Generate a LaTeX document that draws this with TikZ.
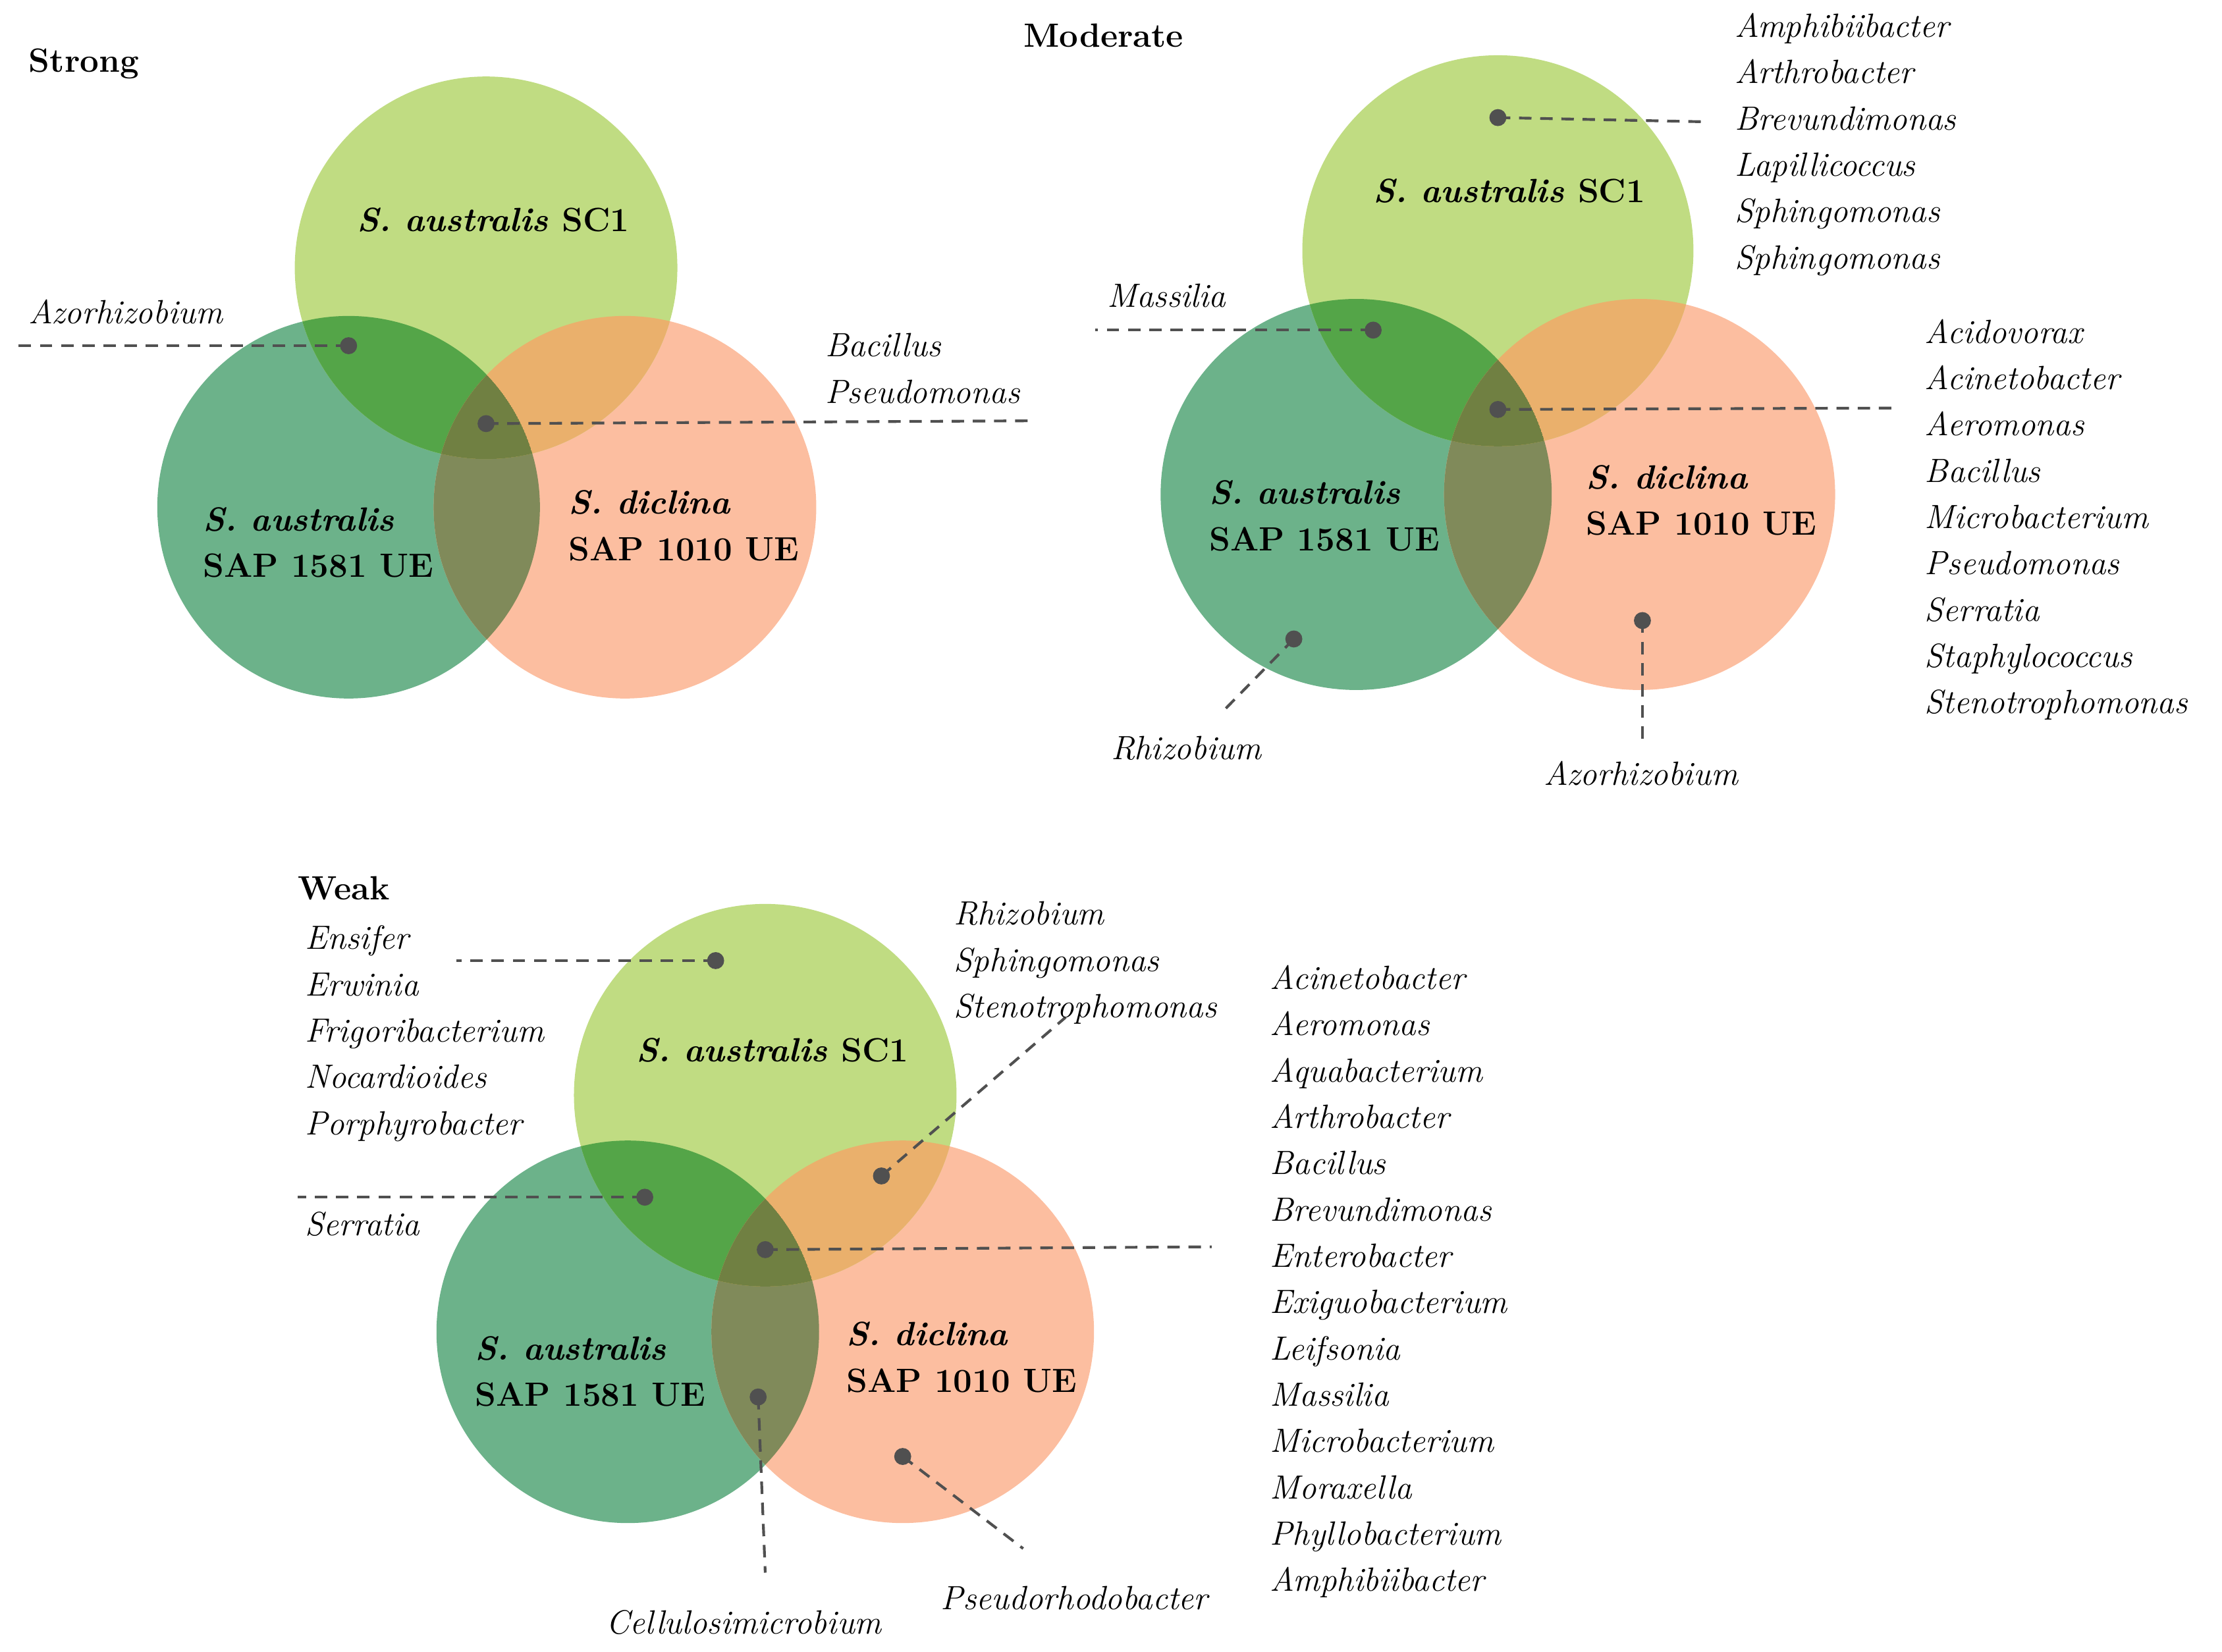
\documentclass[tikz,border=0pt]{standalone}
\usepackage{tikz}
\usepackage{xcolor}
\usetikzlibrary{calc}
\definecolor{lgreen}{RGB}{192,220,130}
\definecolor{dgreen}{RGB}{108,178,138}
\definecolor{lorange}{RGB}{252,190,160}
\definecolor{gAB}{RGB}{128,138,90}
\definecolor{gAC}{RGB}{84,165,72}
\definecolor{gBC}{RGB}{234,176,108}
\definecolor{gABC}{RGB}{112,128,66}
\definecolor{dotgray}{RGB}{80,80,80}
\tikzset{
  txt/.style={inner sep=0pt, font=\fontsize{13.5}{18.6}\selectfont},
  lst/.style={txt, align=left, anchor=north west, font=\fontsize{13.5}{18.6}\selectfont\itshape},
  lbl/.style={txt, align=left, anchor=west, font=\fontsize{13.5}{18.6}\selectfont\bfseries},
  ttl/.style={txt, anchor=west, font=\fontsize{13.5}{16}\selectfont\bfseries},
  lead/.style={dotgray, dashed, dash pattern=on 5pt off 3.5pt, line width=1.1pt},
  pt/.style={fill=dotgray},
}
% three circles: #1 dark green, #2 orange, #3 light green, #4 radius
\newcommand\venndraw[4]{%
  \fill[dgreen] #1 circle (#4);
  \fill[lorange] #2 circle (#4);
  \fill[lgreen] #3 circle (#4);
  \begin{scope}\clip #1 circle (#4); \fill[gAB] #2 circle (#4); \fill[gAC] #3 circle (#4);
    \clip #2 circle (#4); \fill[gABC] #3 circle (#4);\end{scope}
  \begin{scope}\clip #2 circle (#4); \clip #3 circle (#4);
    \fill[gBC] #2 circle (#4);
    \clip #1 circle (#4); \fill[gABC] #1 circle (#4);\end{scope}
}
\begin{document}
\begin{tikzpicture}[x=0.02cm, y=-0.02cm]
  \useasboundingbox (0,0) rectangle (1568,1166);
  % Strong
  \venndraw{(246,358)}{(441,358)}{(343,189)}{135}
  \node[ttl] (strong) at (20,45) {Strong};
  \node[txt] (s1) at (348,155) {\bfseries\itshape S. australis \upshape SC1};
  \node[lbl] (s2) at (143,383) {\itshape S. australis\\ SAP 1581 UE};
  \node[lbl] (s3) at (401,371) {\itshape S. diclina\\ SAP 1010 UE};
  \coordinate (sd1) at (246,244);
  \coordinate (se1) at (8,244);
  \coordinate (sd2) at (343,299);
  \coordinate (se2) at (730,297);
  \draw[lead] (sd1) -- (se1);
  \draw[lead] (sd2) -- (se2);
  \fill[pt] (sd1) circle (6);
  \fill[pt] (sd2) circle (6);
  \node[lst] (sl1) at (20,211) {Azorhizobium};
  \node[lst] (sl2) at (582,235) {Bacillus\\ Pseudomonas};
  % Moderate
  \venndraw{(957,349)}{(1157,349)}{(1057,177)}{138}
  \node[ttl] (moderate) at (722,25) {Moderate};
  \node[txt] (m1) at (1065,135) {\bfseries\itshape S. australis \upshape SC1};
  \node[lbl] (m2) at (853,364) {\itshape S. australis\\ SAP 1581 UE};
  \node[lbl] (m3) at (1119,353) {\itshape S. diclina\\ SAP 1010 UE};
  \coordinate (md1) at (1057,83);
  \coordinate (me1) at (1205,86);
  \coordinate (md2) at (969,233);
  \coordinate (me2) at (773,233);
  \coordinate (md3) at (1057,289);
  \coordinate (me3) at (1335,288);
  \coordinate (md4) at (913,451);
  \coordinate (me4) at (865,500);
  \coordinate (md5) at (1159,438);
  \coordinate (me5) at (1159,527);
  \foreach \i in {1,...,5} {
    \draw[lead] (md\i) -- (me\i);
    \fill[pt] (md\i) circle (6);
  }
  \node[lst] (ml1) at (1224,9) {Amphibiibacter\\ Arthrobacter\\ Brevundimonas\\ Lapillicoccus\\ Sphingomonas\\ Sphingomonas};
  \node[lst] (ml2) at (781,200) {Massilia};
  \node[lst] (ml3) at (1358,225) {Acidovorax\\ Acinetobacter\\ Aeromonas\\ Bacillus\\ Microbacterium\\ Pseudomonas\\ Serratia\\ Staphylococcus\\ Stenotrophomonas};
  \node[txt, font=\fontsize{13.5}{18.6}\selectfont\itshape] (ml4) at (837,528) {Rhizobium};
  \node[txt, font=\fontsize{13.5}{18.6}\selectfont\itshape] (ml5) at (1158,546) {Azorhizobium};
  % Weak
  \venndraw{(443,940)}{(637,940)}{(540,773)}{135}
  \node[ttl] (weak) at (210,627) {Weak};
  \node[txt] (w1) at (545,741) {\bfseries\itshape S. australis \upshape SC1};
  \node[lbl] (w2) at (335,968) {\itshape S. australis\\ SAP 1581 UE};
  \node[lbl] (w3) at (597,958) {\itshape S. diclina\\ SAP 1010 UE};
  \coordinate (wd1) at (505,678);
  \coordinate (we1) at (322,678);
  \coordinate (wd2) at (455,845);
  \coordinate (we2) at (210,845);
  \coordinate (wd3) at (622,830);
  \coordinate (we3) at (752,718);
  \coordinate (wd4) at (540,882);
  \coordinate (we4) at (855,880);
  \coordinate (wd5) at (535,986);
  \coordinate (we5) at (540,1110);
  \coordinate (wd6) at (637,1028);
  \coordinate (we6) at (722,1093);
  \foreach \i in {1,...,6} {
    \draw[lead] (wd\i) -- (we\i);
    \fill[pt] (wd\i) circle (6);
  }
  \node[lst] (wl1) at (215,653) {Ensifer\\ Erwinia\\ Frigoribacterium\\ Nocardioides\\ Porphyrobacter};
  \node[lst] (wl2) at (215,855) {Serratia};
  \node[lst] (wl3) at (673,636) {Rhizobium\\ Sphingomonas\\ Stenotrophomonas};
  \node[lst] (wl4) at (896,681) {Acinetobacter\\ Aeromonas\\ Aquabacterium\\ Arthrobacter\\ Bacillus\\ Brevundimonas\\ Enterobacter\\ Exiguobacterium\\ Leifsonia\\ Massilia\\ Microbacterium\\ Moraxella\\ Phyllobacterium\\ Amphibiibacter};
  \node[txt, font=\fontsize{13.5}{18.6}\selectfont\itshape] (wl5) at (525,1145) {Cellulosimicrobium};
  \node[txt, font=\fontsize{13.5}{18.6}\selectfont\itshape] (wl6) at (758,1128) {Pseudorhodobacter};
\end{tikzpicture}
\end{document}
